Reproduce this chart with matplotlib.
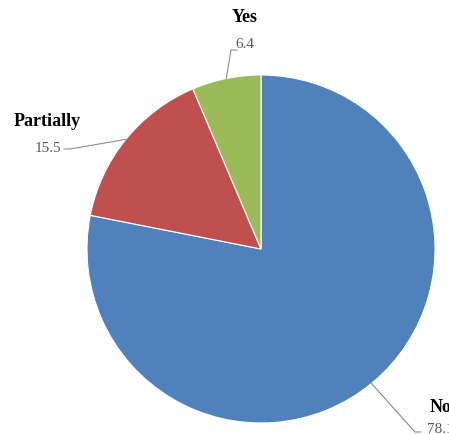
import matplotlib
matplotlib.use("Agg")
import matplotlib.pyplot as plt
import numpy as np

categories = ["No", "Partially", "Yes"]
values = [78.1, 15.5, 6.4]
value_labels = ["78.1", "15.5", "6.4"]
colors = ["#4F81BD", "#C0504D", "#9BBB59"]

W, H = 449, 435
fig = plt.figure(figsize=(W / 100, H / 100), dpi=100)
ax = fig.add_axes([0, 0, 1, 1])

cx, cy, r = 261, 250, 174
def Y(y):
    return H - y

wedges, _ = ax.pie(values, colors=colors, startangle=90, counterclock=False,
                   center=(cx, Y(cy)), radius=r,
                   wedgeprops=dict(edgecolor="white", linewidth=0.8))
ax.set_xlim(0, W)
ax.set_ylim(0, H)
ax.set_aspect("auto")
ax.axis("off")

angles = []
start = 90
for v in values:
    mid = start - v / 100 * 360 / 2
    angles.append(np.deg2rad(mid))
    start -= v / 100 * 360

def arc_pt(a):
    return cx + r * np.cos(a), cy - r * np.sin(a)

lc = "#8c8c8c"
x0, y0 = arc_pt(angles[0])
ax.plot([x0, 415, 421], [Y(y0), Y(433), Y(433)], color=lc, lw=0.8, clip_on=False)
x1, y1 = arc_pt(angles[1])
ax.plot([x1, 70, 64], [Y(y1), Y(150), Y(150)], color=lc, lw=0.8)
x2, y2 = arc_pt(angles[2])
ax.plot([x2, 231, 237], [Y(y2), Y(51), Y(51)], color=lc, lw=0.8)

serif = ["Liberation Serif", "DejaVu Serif"]
ax.text(430, Y(408), categories[0], family=serif, weight="bold", fontsize=13,
        ha="left", va="center", color="black")
ax.text(427, Y(430), value_labels[0], family=serif, fontsize=11,
        ha="left", va="center", color="#595959")
ax.text(47, Y(122), categories[1], family=serif, weight="bold", fontsize=13,
        ha="center", va="center", color="black")
ax.text(48, Y(148), value_labels[1], family=serif, fontsize=11,
        ha="center", va="center", color="#595959")
ax.text(245, Y(18), categories[2], family=serif, weight="bold", fontsize=13,
        ha="center", va="center", color="black")
ax.text(245, Y(44), value_labels[2], family=serif, fontsize=11,
        ha="center", va="center", color="#595959")

fig.savefig("out.png", dpi=100)
